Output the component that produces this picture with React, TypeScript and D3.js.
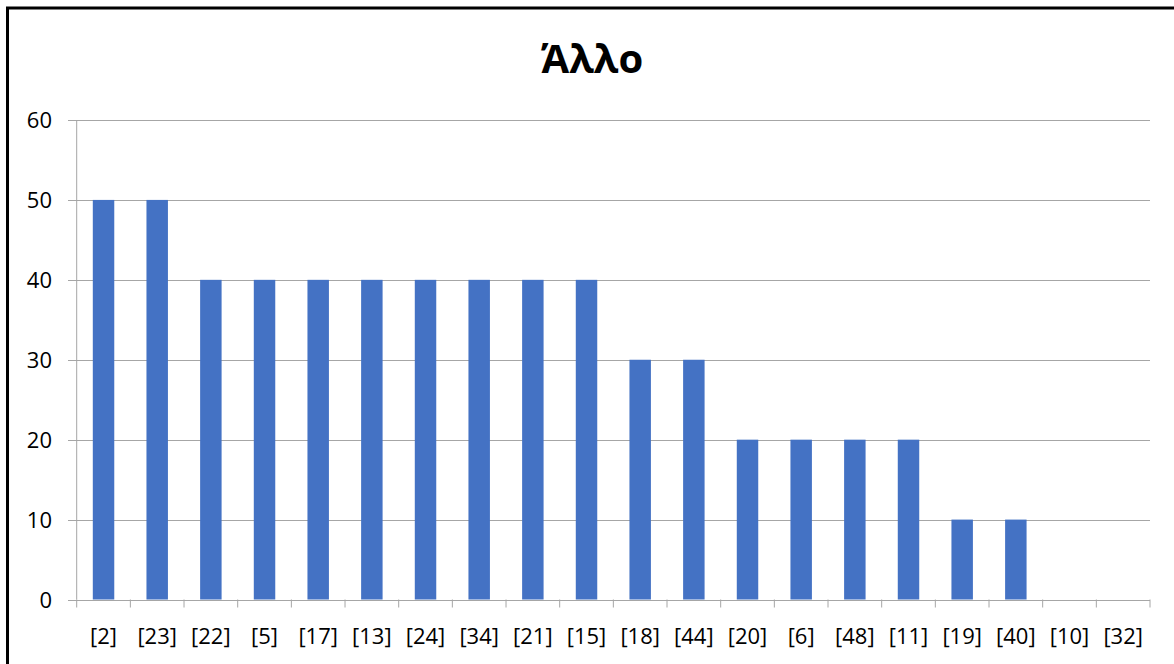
import React from "react";
import * as d3 from "d3";

const categories = ["[2]", "[23]", "[22]", "[5]", "[17]", "[13]", "[24]", "[34]", "[21]", "[15]", "[18]", "[44]", "[20]", "[6]", "[48]", "[11]", "[19]", "[40]", "[10]", "[32]"];
const values = [50, 50, 40, 40, 40, 40, 40, 40, 40, 40, 30, 30, 20, 20, 20, 20, 10, 10, 0, 0];
const yTicks = [0, 10, 20, 30, 40, 50, 60];
const title = "Άλλο";

const W = 1174;
const H = 664;
const left = 76.7;
const right = 1150;
const top = 120;
const bottom = 599.5;
const font = "'Open Sans', 'Noto Sans', sans-serif";

export default function App() {
  const x = d3.scaleBand<string>().domain(categories).range([left, right]).paddingInner(0.6).paddingOuter(0.3);
  const xb = d3.scaleBand<string>().domain(categories).range([left, right]).padding(0);
  const y = d3.scaleLinear().domain([0, 60]).range([bottom, top]);
  const grid = "#a6a6a6";
  const tickXs = [...categories.map((c) => xb(c) as number), right];
  return (
    <svg width={W} height={H} style={{ position: "absolute", left: 0, top: 0, background: "#fff" }}>
      <rect x={7.5} y={8} width={W + 10} height={H + 10} fill="#fff" stroke="#000" strokeWidth={3} />
      <text x={592} y={73} textAnchor="middle" fontFamily={font} fontWeight="bold" fontSize={40} fill="#000">
        {title}
      </text>
      {yTicks.map((t) => (
        <g key={t}>
          <line x1={68} x2={right} y1={Math.round(y(t)) + 0.5} y2={Math.round(y(t)) + 0.5} stroke={grid} strokeWidth={1} />
          <text x={52} y={y(t) + 8} textAnchor="end" fontFamily={font} fontSize={22} fill="#000">
            {t}
          </text>
        </g>
      ))}
      <line x1={left} x2={left} y1={top} y2={bottom} stroke={grid} strokeWidth={1} />
      {tickXs.map((tx, i) => (
        <line key={i} x1={tx} x2={tx} y1={bottom} y2={bottom + 8} stroke={grid} strokeWidth={1} />
      ))}
      {categories.map((c, i) => (
        <rect key={c} x={x(c)} width={x.bandwidth()} y={y(values[i])} height={bottom - y(values[i])} fill="#4472C4" />
      ))}
      {categories.map((c) => (
        <text key={c} x={(xb(c) as number) + xb.bandwidth() / 2} y={644} textAnchor="middle" fontFamily={font} fontSize={22} fill="#000">
          {c}
        </text>
      ))}
    </svg>
  );
}
